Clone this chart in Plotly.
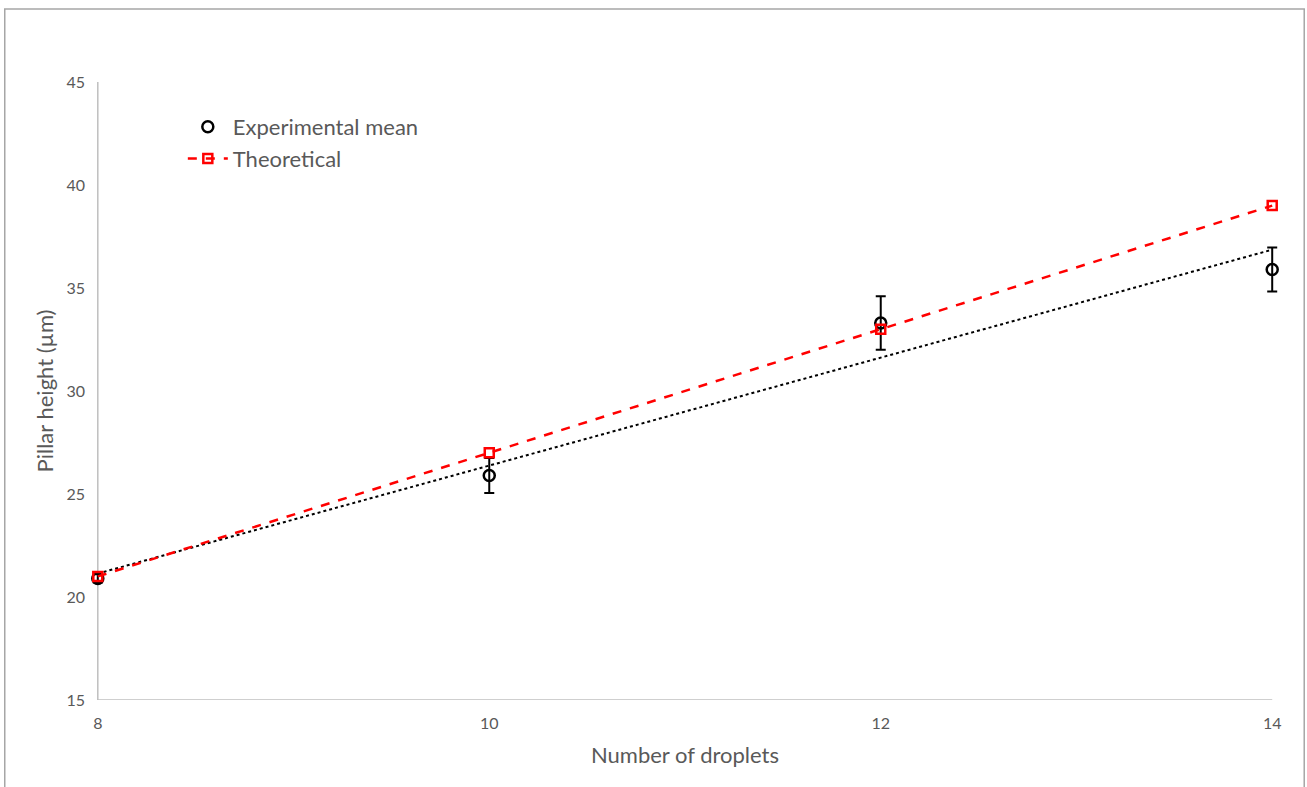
import numpy as np
import plotly.graph_objects as go

droplets = [8, 10, 12, 14]
exp_mean = [20.9, 25.9, 33.3, 35.9]
exp_err = [0.2, 0.85, 1.3, 1.07]
theoretical = [21, 27, 33, 39]
x_ticks = [8, 10, 12, 14]
y_ticks = [15, 20, 25, 30, 35, 40, 45]

# Linear trendline of the experimental mean (as in the original chart)
slope, intercept = np.polyfit(droplets, exp_mean, 1)
trend_x = [droplets[0], droplets[-1]]
trend_y = [slope * v + intercept for v in trend_x]

FONT = "Lato, 'Open Sans', sans-serif"
GREY_TXT = "#595959"
AXIS_CLR = "#bfbfbf"

X0, X1 = 8, 14
Y0, Y1 = 15, 45
PAD = 0.05  # small padding so end-point error bar caps are not clipped

fig = go.Figure()

fig.add_trace(go.Scatter(
    x=trend_x, y=trend_y, mode="lines",
    line=dict(color="black", width=2, dash="dot"),
    showlegend=False, hoverinfo="skip", cliponaxis=False,
))

fig.add_trace(go.Scatter(
    x=droplets, y=exp_mean, mode="markers", name="Experimental mean",
    marker=dict(symbol="circle-open", size=11, color="black", line=dict(width=2.5, color="black")),
    error_y=dict(type="data", array=exp_err, visible=True, color="black", thickness=2, width=5),
    cliponaxis=False,
))

fig.add_trace(go.Scatter(
    x=droplets, y=theoretical, mode="lines+markers", name="Theoretical",
    line=dict(color="#ff0000", width=2.5, dash="dash"),
    marker=dict(symbol="square-open", size=9, color="#ff0000", line=dict(width=2.5, color="#ff0000")),
    cliponaxis=False,
))

# Axis lines drawn at the data limits
fig.add_shape(type="line", xref="x", yref="y", x0=X0, x1=X0, y0=Y0, y1=Y1,
              line=dict(color=AXIS_CLR, width=1.5), layer="below")
fig.add_shape(type="line", xref="x", yref="y", x0=X0, x1=X1, y0=Y0, y1=Y0,
              line=dict(color=AXIS_CLR, width=1.5), layer="below")

# Plot area in page pixels: x 98..1272 (8..14), y 82..700 (45..15)
unit_px = (1272 - 98) / (X1 - X0)
pad_px = PAD * unit_px
left = 98 - pad_px
right = 1307 - 1272 - pad_px
pw = 1307 - left - right
ph = 700 - 82

# Chart-area border
fig.add_shape(type="rect", xref="paper", yref="paper",
              x0=(5 - left) / pw, x1=(1304 - left) / pw,
              y0=(700 - 795) / ph, y1=(700 - 9) / ph,
              line=dict(color="#a6a6a6", width=1.5), fillcolor="rgba(0,0,0,0)", layer="below")

fig.update_layout(
    width=1307, height=787,
    margin=dict(l=left, r=right, t=82, b=87, pad=0),
    paper_bgcolor="white", plot_bgcolor="white",
    font=dict(family=FONT, color=GREY_TXT),
    showlegend=True,
    legend=dict(x=(183 - left) / pw, y=(700 - 106) / ph, xanchor="left", yanchor="top",
                font=dict(size=22, color=GREY_TXT, family=FONT),
                bgcolor="rgba(0,0,0,0)", tracegroupgap=0, itemwidth=40),
    xaxis=dict(range=[X0 - PAD, X1 + PAD], tickvals=x_ticks, ticktext=[str(v) for v in x_ticks],
               showgrid=False, zeroline=False, showline=False,
               ticks="", tickfont=dict(size=16, color=GREY_TXT), ticklabelstandoff=12,
               title=dict(text="Number of droplets", font=dict(size=22, color=GREY_TXT), standoff=16)),
    yaxis=dict(range=[Y0, Y1], tickvals=y_ticks, ticktext=[str(v) for v in y_ticks],
               showgrid=False, zeroline=False, showline=False,
               ticks="", tickfont=dict(size=16, color=GREY_TXT), ticklabelstandoff=2,
               title=dict(text="Pillar height (µm)", font=dict(size=22, color=GREY_TXT), standoff=6)),
)

fig.write_html("out.html", config={"displayModeBar": False},
               post_script="document.body.style.margin='0';document.body.style.overflow='hidden';")
